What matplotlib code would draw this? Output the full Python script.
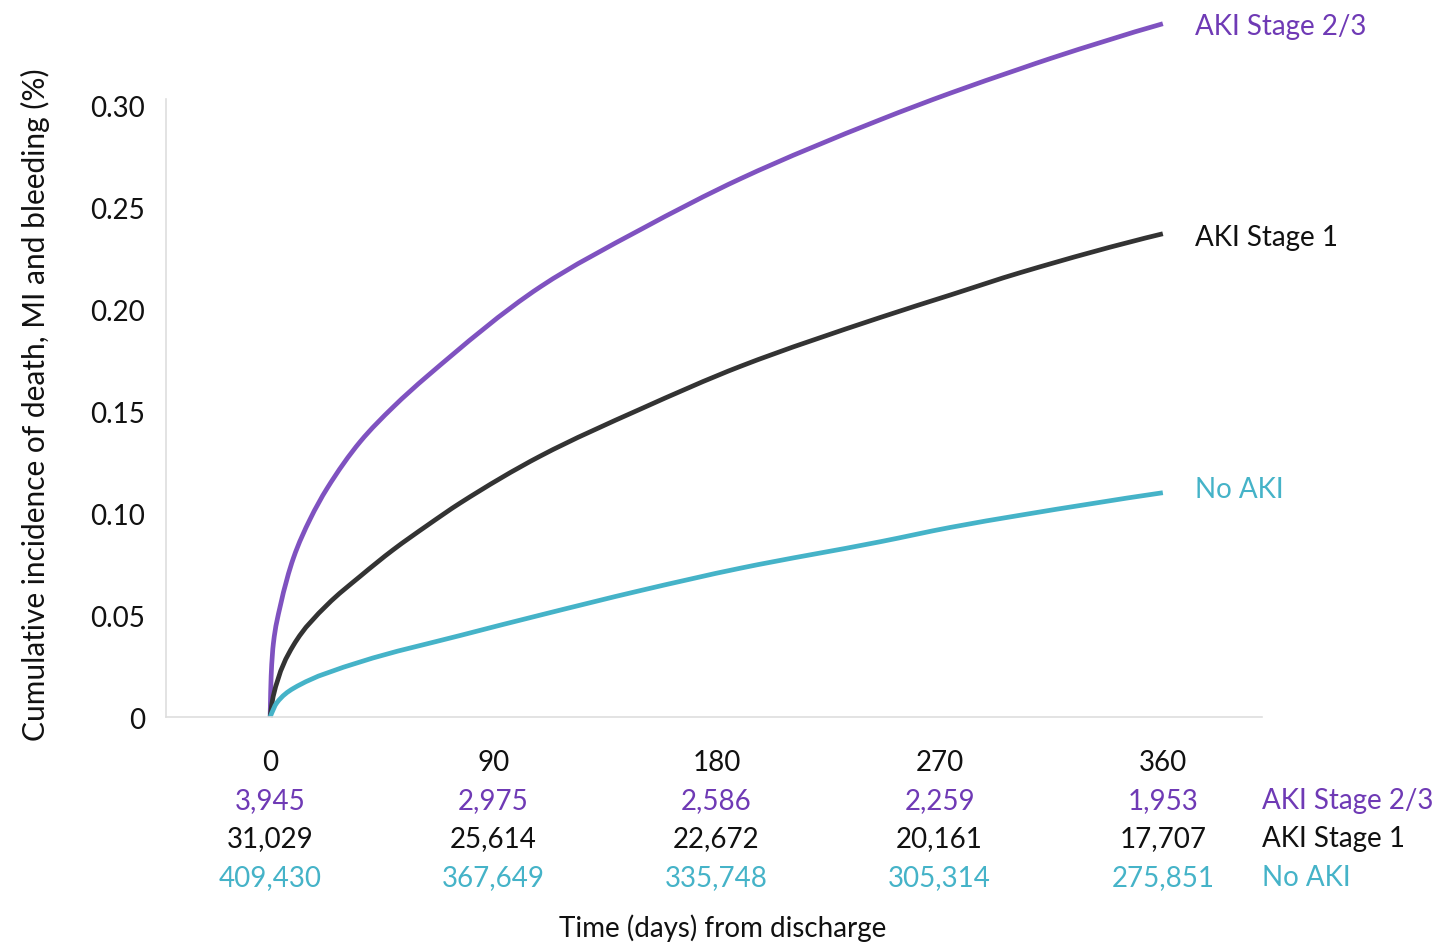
import numpy as np
import matplotlib
matplotlib.use("Agg")
import matplotlib.pyplot as plt
import matplotlib.transforms as mtransforms
from matplotlib.path import Path
from matplotlib.patches import PathPatch

plt.rcParams['font.family'] = ['Lato', 'DejaVu Sans']

# curve points (days, cumulative incidence)
days_aki23 = [0, 0.4, 1.3, 4.0, 9.4, 16.1, 22.9, 36.3, 49.6, 63.2, 109, 149.3,
              189.7, 246.2, 274.4, 302.7, 314.8, 360]
inc_aki23 = [0, 0.020, 0.036, 0.054, 0.078, 0.097, 0.112, 0.135, 0.152, 0.167,
             0.211, 0.239, 0.264, 0.293, 0.306, 0.318, 0.323, 0.340]

days_aki1 = [0, 1.2, 9.3, 23, 36.3, 49.6, 63.4, 76.7, 109, 149.3, 189.7,
             246.2, 274.4, 302.7, 360]
inc_aki1 = [0, 0.010, 0.035, 0.055, 0.069, 0.082, 0.094, 0.105, 0.128, 0.151,
            0.172, 0.196, 0.207, 0.218, 0.237]

days_noaki = [0, 2.7, 9.3, 36.3, 76.7, 109, 149.3, 189.7, 246.2, 274.4,
              302.7, 360]
inc_noaki = [0, 0.007, 0.014, 0.027, 0.040, 0.050, 0.062, 0.073, 0.086,
             0.093, 0.099, 0.110]

# numbers at risk
risk_days = [0, 90, 180, 270, 360]
risk_aki23 = ["3,945", "2,975", "2,586", "2,259", "1,953"]
risk_aki1 = ["31,029", "25,614", "22,672", "20,161", "17,707"]
risk_noaki = ["409,430", "367,649", "335,748", "305,314", "275,851"]

groups = ["AKI Stage 2/3", "AKI Stage 1", "No AKI"]
line_colors = ["#7f52c0", "#333333", "#45b3c8"]
text_colors = ["#6f3ab5", "#111111", "#45b3c8"]
FS = 20


def smooth_path(x, y):
    """Smoothed (monotone cubic) bezier path through the points, like a
    'smoothed line' option in a spreadsheet chart."""
    x = np.asarray(x, float)
    y = np.asarray(y, float)
    h = np.diff(x)
    d = np.diff(y) / h
    m = np.zeros_like(x)
    for i in range(1, len(x) - 1):
        if d[i - 1] * d[i] > 0:
            w1 = 2 * h[i] + h[i - 1]
            w2 = h[i] + 2 * h[i - 1]
            m[i] = (w1 + w2) / (w1 / d[i - 1] + w2 / d[i])
    m[0] = ((2 * h[0] + h[1]) * d[0] - h[0] * d[1]) / (h[0] + h[1])
    m[-1] = ((2 * h[-1] + h[-2]) * d[-1] - h[-1] * d[-2]) / (h[-1] + h[-2])
    verts = [(x[0], y[0])]
    codes = [Path.MOVETO]
    for i in range(len(h)):
        verts += [(x[i] + h[i] / 3, y[i] + m[i] * h[i] / 3),
                  (x[i + 1] - h[i] / 3, y[i + 1] - m[i + 1] * h[i] / 3),
                  (x[i + 1], y[i + 1])]
        codes += [Path.CURVE4] * 3
    return Path(verts, codes)


fig = plt.figure(figsize=(14.41, 9.45), dpi=100)
ax = fig.add_axes([0.1152, 0.2402, 0.7606, 0.6538])

series = [(days_aki23, inc_aki23), (days_aki1, inc_aki1), (days_noaki, inc_noaki)]
for (d, v), c in zip(series, line_colors):
    patch = PathPatch(smooth_path(d, v), facecolor='none', edgecolor=c,
                      lw=3.4, capstyle='butt', joinstyle='round',
                      transform=ax.transData, clip_on=False)
    ax.add_patch(patch)

ax.set_xlim(-42, 400)
ax.set_ylim(0, 0.303)

for spine in ['top', 'right']:
    ax.spines[spine].set_visible(False)
for spine in ['left', 'bottom']:
    ax.spines[spine].set_color('#dedede')
    ax.spines[spine].set_linewidth(1.2)

yt = [0, 0.05, 0.10, 0.15, 0.20, 0.25, 0.30]
ax.set_yticks(yt)
ax.set_yticklabels(['0' if v == 0 else f'{v:.2f}' for v in yt])
ax.set_xticks(risk_days)
ax.set_xticklabels([str(d) for d in risk_days])
ax.tick_params(axis='y', length=0, pad=15, labelsize=FS, labelcolor='#111111')
ax.tick_params(axis='x', length=0, pad=23, labelsize=FS, labelcolor='#111111')

fig.text(35 / 1441, 1 - 405 / 945,
         'Cumulative incidence of death, MI and bleeding (%)',
         rotation=90, ha='center', va='center', fontsize=21.5, color='#111111')

# end-of-line labels (small nudges so they sit like the original)
ends = [inc_aki23[-1], inc_aki1[-1], inc_noaki[-1]]
nudges = [-0.001, -0.0015, 0.002]
for name, yv, dy, c in zip(groups, ends, nudges, text_colors):
    ax.text(373, yv + dy, name, color=c, fontsize=FS, va='center',
            ha='left', clip_on=False)

# numbers at risk table
trans = mtransforms.blended_transform_factory(ax.transData, fig.transFigure)
rows = [risk_aki23, risk_aki1, risk_noaki]
row_y = [1 - 801 / 945, 1 - 839 / 945, 1 - 878 / 945]
for vals, name, c, yy in zip(rows, groups, text_colors, row_y):
    for d, s in zip(risk_days, vals):
        ax.text(d, yy, s, transform=trans, ha='center', va='center',
                color=c, fontsize=FS)
    ax.text(400, yy, name, transform=trans, ha='left', va='center',
            color=c, fontsize=FS)

fig.text(723 / 1441, 1 - 928 / 945, 'Time (days) from discharge',
         ha='center', va='center', fontsize=FS, color='#111111')

fig.savefig('out.png', dpi=100)
